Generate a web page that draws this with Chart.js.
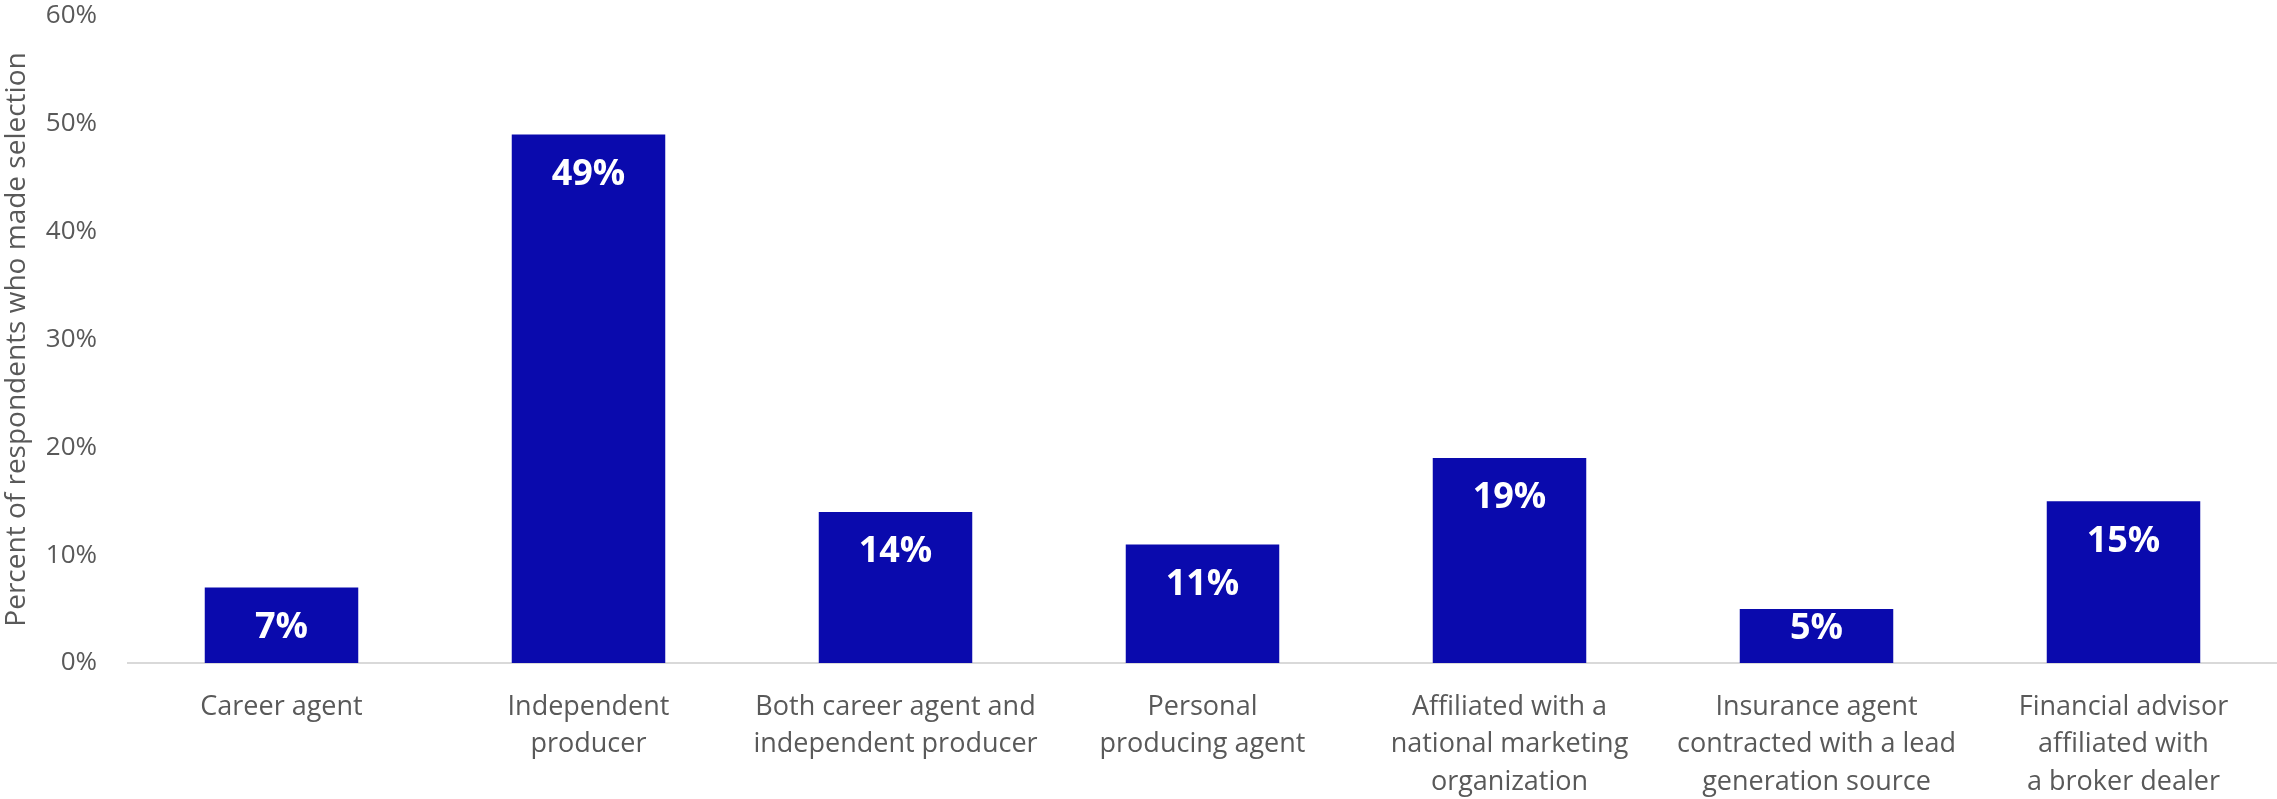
<!DOCTYPE html>
<html>
<head>
<meta charset="utf-8">
<script src="https://cdn.jsdelivr.net/npm/chart.js@4/dist/chart.umd.min.js"></script>
<style>
  body { margin: 0; background: #fff; }
  #wrap { width: 2277px; height: 799px; position: relative; }
</style>
</head>
<body>
<div id="wrap"><canvas id="chart"></canvas></div>
<script>
const categories = [
    'Career agent',
    ['Independent', 'producer'],
    ['Both career agent and', 'independent producer'],
    ['Personal', 'producing agent'],
    ['Affiliated with a', 'national marketing', 'organization'],
    ['Insurance agent', 'contracted with a lead', 'generation source'],
    ['Financial advisor', 'affiliated with', 'a broker dealer']
];
const percentSelected = [7, 49, 14, 11, 19, 5, 15];
const yTicks = [0, 10, 20, 30, 40, 50, 60];

const barColor = '#0A0AAD';
const textColor = '#595959';
const fontFamily = "'Open Sans', sans-serif";

// white value labels inside the top of each bar
const barLabels = {
    id: 'barLabels',
    afterDatasetsDraw(chart) {
        const ctx = chart.ctx;
        const meta = chart.getDatasetMeta(0);
        ctx.save();
        ctx.fillStyle = '#ffffff';
        ctx.font = `bold 36px ${fontFamily}`;
        ctx.textAlign = 'center';
        ctx.textBaseline = 'middle';
        meta.data.forEach((bar, i) => {
            const y = Math.min(bar.y + 40, bar.base - 34);
            ctx.fillText(percentSelected[i] + '%', bar.x, y);
        });
        ctx.restore();
    }
};

new Chart(document.getElementById('chart'), {
    type: 'bar',
    data: {
        labels: categories,
        datasets: [{
            data: percentSelected,
            backgroundColor: barColor,
            barPercentage: 0.5,
            categoryPercentage: 1
        }]
    },
    plugins: [barLabels],
    options: {
        responsive: true,
        maintainAspectRatio: false,
        animation: false,
        layout: { padding: { top: 16, right: 0, bottom: 0, left: 0 } },
        plugins: {
            legend: { display: false },
            tooltip: { enabled: false }
        },
        scales: {
            x: {
                grid: { display: false, drawTicks: false },
                border: { display: true, color: '#d9d9d9', width: 2 },
                ticks: {
                    color: textColor,
                    font: { family: fontFamily, size: 27, lineHeight: 1.4 },
                    padding: 25,
                    maxRotation: 0,
                    autoSkip: false
                },
                afterFit(scale) {
                    scale.height = 136;
                    scale.paddingLeft = 0;
                    scale.paddingRight = 0;
                }
            },
            y: {
                min: 0,
                max: 60,
                afterBuildTicks(scale) { scale.ticks = yTicks.map(v => ({ value: v })); },
                grid: { display: false, drawTicks: false },
                border: { display: false },
                ticks: {
                    color: textColor,
                    font: { family: fontFamily, size: 26 },
                    padding: 31,
                    callback: v => v + '%'
                },
                title: {
                    display: true,
                    text: 'Percent of respondents who made selection',
                    color: textColor,
                    font: { family: fontFamily, size: 28 },
                    padding: 0
                },
                afterFit(scale) {
                    scale.width = 128;
                    scale.paddingTop = 0;
                    scale.paddingBottom = 0;
                }
            }
        }
    }
});
</script>
</body>
</html>
